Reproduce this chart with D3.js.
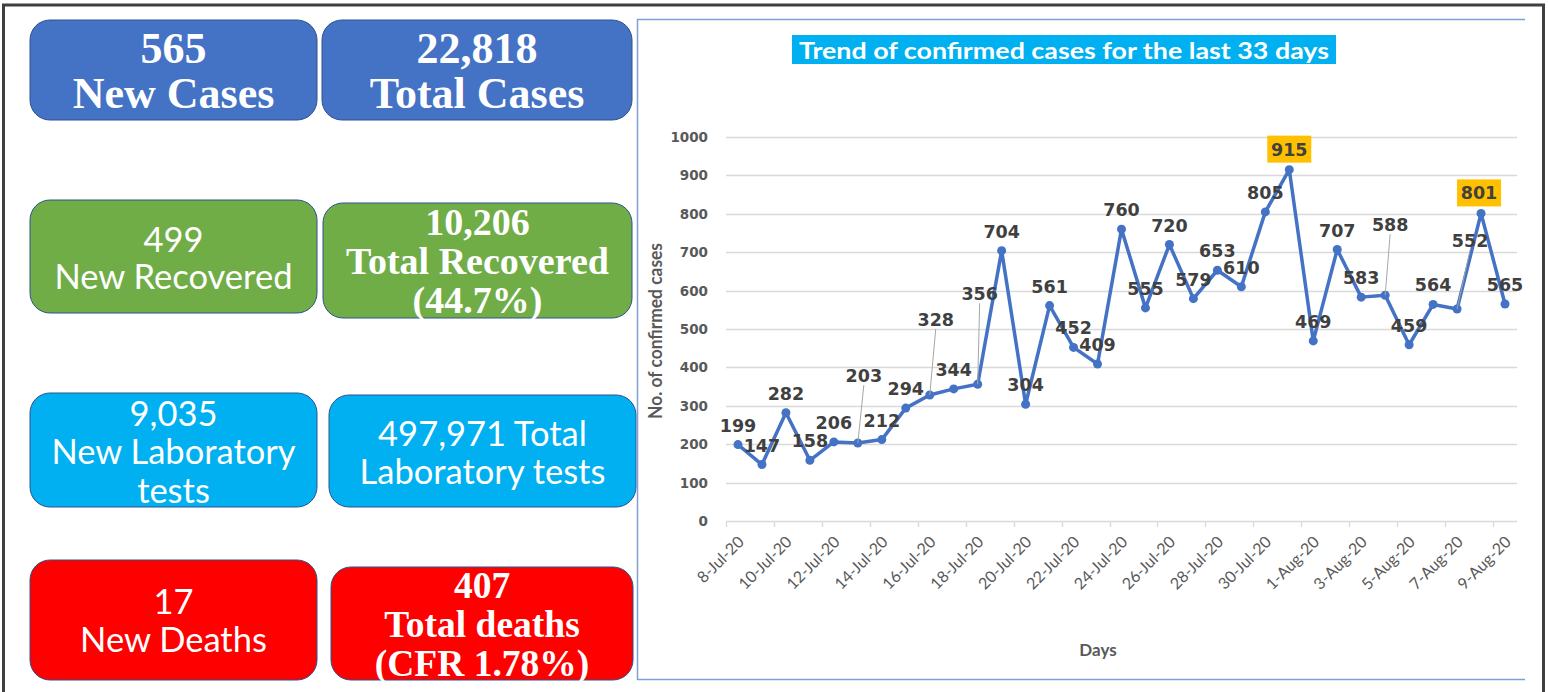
<!DOCTYPE html>
<html>
<head>
<meta charset="utf-8">
<script src="https://cdn.jsdelivr.net/npm/d3@7"></script>
<style>
  body { margin: 0; background: #fff; }
  svg { display: block; }
</style>
</head>
<body>
<svg id="board" width="1548" height="692"></svg>
<script>
// ---- data ----
const days = [
  '8-Jul-20', '9-Jul-20', '10-Jul-20', '11-Jul-20', '12-Jul-20', '13-Jul-20',
  '14-Jul-20', '15-Jul-20', '16-Jul-20', '17-Jul-20', '18-Jul-20', '19-Jul-20',
  '20-Jul-20', '21-Jul-20', '22-Jul-20', '23-Jul-20', '24-Jul-20', '25-Jul-20',
  '26-Jul-20', '27-Jul-20', '28-Jul-20', '29-Jul-20', '30-Jul-20', '31-Jul-20',
  '1-Aug-20', '2-Aug-20', '3-Aug-20', '4-Aug-20', '5-Aug-20', '6-Aug-20',
  '7-Aug-20', '8-Aug-20', '9-Aug-20'
];
const cases = [
  199, 147, 282, 158, 206, 203, 212, 294, 328, 344, 356, 704, 304, 561, 452,
  409, 760, 555, 720, 579, 653, 610, 805, 915, 469, 707, 583, 588, 459, 564,
  552, 801, 565
];
const yTicks = [0, 100, 200, 300, 400, 500, 600, 700, 800, 900, 1000];
const highlightDays = ['31-Jul-20', '8-Aug-20'];

const chartTitle = 'Trend of confirmed cases for the last 33 days';
const yTitle = 'No. of confirmed cases';
const xTitle = 'Days';

const statLines = [
  ['565', 'New Cases'],
  ['22,818', 'Total Cases'],
  ['499', 'New Recovered'],
  ['10,206', 'Total Recovered', '(44.7%)'],
  ['9,035', 'New Laboratory', 'tests'],
  ['497,971 Total', 'Laboratory tests'],
  ['17', 'New Deaths'],
  ['407', 'Total deaths', '(CFR 1.78%)']
];

// ---- layout / styles ----
const serif = '"Liberation Serif", "Times New Roman", serif';
const sans = 'Lato, "Open Sans", sans-serif';
const boxes = [
  {x: 30, y: 20, w: 287, h: 100, fill: '#4472c4', font: serif, bold: true, size: 44, top: 48, step: 45},
  {x: 322, y: 20, w: 310, h: 100, fill: '#4472c4', font: serif, bold: true, size: 44, top: 48, step: 45},
  {x: 30, y: 200, w: 287, h: 113, fill: '#70ad47', font: sans, bold: false, size: 34.5, top: 238, step: 37},
  {x: 323, y: 203, w: 309, h: 115, fill: '#70ad47', font: serif, bold: true, size: 38, top: 222, step: 39},
  {x: 30, y: 393, w: 287, h: 114, fill: '#00b0f0', font: sans, bold: false, size: 34.5, top: 412, step: 38.5},
  {x: 329, y: 395, w: 307, h: 112, fill: '#00b0f0', font: sans, bold: false, size: 34.5, top: 432, step: 38},
  {x: 30, y: 560, w: 287, h: 120, fill: '#ff0000', font: sans, bold: false, size: 34.5, top: 600, step: 38},
  {x: 331, y: 567, w: 302, h: 113, fill: '#ff0000', font: serif, bold: true, size: 37.5, top: 585, step: 39}
];

// label nudges (dx, dy) from the point; default sits just above it
const labelNudge = {5: [6, -67], 8: [6, -75], 10: [2, -90], 27: [5, -70], 30: [13, -68], 31: [-2, -20], 23: [0, -20]};

const svg = d3.select('#board');

// outer frame
svg.append('path')
    .attr('d', 'M3.5,692 V5 H1543.5 V692')
    .attr('fill', 'none')
    .attr('stroke', '#3f3f3f')
    .attr('stroke-width', 3);

// ---- stat boxes ----
const box = svg.append('g').selectAll('g')
    .data(statLines)
    .join('g');

box.append('rect')
    .attr('x', (d, i) => boxes[i].x)
    .attr('y', (d, i) => boxes[i].y)
    .attr('width', (d, i) => boxes[i].w)
    .attr('height', (d, i) => boxes[i].h)
    .attr('rx', 20)
    .attr('fill', (d, i) => boxes[i].fill)
    .attr('stroke', '#2f528f')
    .attr('stroke-width', 1);

box.each(function(lines, i) {
  const b = boxes[i];
  d3.select(this).selectAll('text')
      .data(lines)
      .join('text')
      .attr('x', b.x + b.w / 2)
      .attr('y', (d, j) => b.top + j * b.step)
      .attr('text-anchor', 'middle')
      .attr('dominant-baseline', 'central')
      .attr('fill', '#fff')
      .style('font-family', b.font)
      .style('font-weight', b.bold ? 700 : 400)
      .style('font-size', b.size + 'px')
      .text(d => d);
});

// ---- chart panel ----
svg.append('path')
    .attr('d', 'M1525,19.5 H637.5 V679.5 H1525')
    .attr('fill', 'none')
    .attr('stroke', '#7f9fd6')
    .attr('stroke-width', 1.5);

svg.append('rect')
    .attr('x', 792)
    .attr('y', 35)
    .attr('width', 544)
    .attr('height', 29)
    .attr('fill', '#00b0f0');

svg.append('text')
    .attr('x', 1064)
    .attr('y', 50)
    .attr('text-anchor', 'middle')
    .attr('dominant-baseline', 'central')
    .attr('fill', '#fff')
    .attr('textLength', 530)
    .attr('lengthAdjust', 'spacingAndGlyphs')
    .style('font-family', sans)
    .style('font-weight', 700)
    .style('font-size', '22px')
    .text(chartTitle);

const x = d3.scaleBand()
    .domain(days)
    .range([726, 1517]);

const y = d3.scaleLinear()
    .domain([0, 1000])
    .range([521, 137]);

const bw = x.bandwidth();
const cx = d => x(d) + bw / 2;

const g = svg.append('g');

// gridlines
g.append('g')
    .selectAll('line')
    .data(yTicks)
    .join('line')
    .attr('x1', 726)
    .attr('x2', 1517)
    .attr('y1', d => Math.round(y(d)) + 0.5)
    .attr('y2', d => Math.round(y(d)) + 0.5)
    .attr('stroke', '#d9d9d9')
    .attr('stroke-width', 1.3);

// y tick labels
g.append('g')
    .selectAll('text')
    .data(yTicks)
    .join('text')
    .attr('x', 708)
    .attr('y', d => y(d))
    .attr('text-anchor', 'end')
    .attr('dominant-baseline', 'central')
    .attr('fill', '#595959')
    .style('font-family', '"DejaVu Sans", sans-serif')
    .style('font-weight', 700)
    .style('font-size', '13.5px')
    .text(d => d);

// x axis
const shownDays = days.filter((d, i) => i % 2 === 0);
const xAxis = g.append('g')
    .attr('transform', 'translate(0,521)')
    .call(d3.axisBottom(x).tickValues(shownDays).tickSize(0));
xAxis.select('.domain').remove();
xAxis.selectAll('.tick text')
    .attr('x', null)
    .attr('y', null)
    .attr('dy', '0.35em')
    .attr('text-anchor', 'end')
    .attr('transform', 'translate(3,18) rotate(-45)')
    .attr('fill', '#595959')
    .style('font-family', sans)
    .style('font-size', '16px');

g.append('g')
    .selectAll('line')
    .data(shownDays)
    .join('line')
    .attr('x1', d => Math.round(x(d)) + 0.5)
    .attr('x2', d => Math.round(x(d)) + 0.5)
    .attr('y1', 521)
    .attr('y2', 527)
    .attr('stroke', '#d9d9d9')
    .attr('stroke-width', 1.3);

// axis titles
svg.append('text')
    .attr('transform', 'translate(655,331) rotate(-90)')
    .attr('text-anchor', 'middle')
    .attr('dominant-baseline', 'central')
    .attr('fill', '#595959')
    .attr('textLength', 176)
    .attr('lengthAdjust', 'spacingAndGlyphs')
    .style('font-family', sans)
    .style('font-weight', 700)
    .style('font-size', '18px')
    .text(yTitle);

svg.append('text')
    .attr('x', 1098)
    .attr('y', 649)
    .attr('text-anchor', 'middle')
    .attr('dominant-baseline', 'central')
    .attr('fill', '#595959')
    .style('font-family', sans)
    .style('font-weight', 700)
    .style('font-size', '17px')
    .text(xTitle);

// series
const series = days.map((d, i) => ({day: d, value: cases[i], i: i}));

const line = d3.line()
    .x(d => cx(d.day))
    .y(d => y(d.value));

g.append('path')
    .datum(series)
    .attr('d', line)
    .attr('fill', 'none')
    .attr('stroke', '#4472c4')
    .attr('stroke-width', 3.5)
    .attr('stroke-linejoin', 'round');

g.append('g')
    .selectAll('circle')
    .data(series)
    .join('circle')
    .attr('cx', d => cx(d.day))
    .attr('cy', d => y(d.value))
    .attr('r', 4.5)
    .attr('fill', '#4472c4');

// data labels
const nudge = d => labelNudge[d.i] || [0, -19];
const lx = d => cx(d.day) + nudge(d)[0];
const ly = d => y(d.value) + nudge(d)[1];

g.append('g')
    .selectAll('line')
    .data(series.filter(d => nudge(d)[1] < -40))
    .join('line')
    .attr('x1', d => cx(d.day))
    .attr('y1', d => y(d.value))
    .attr('x2', d => lx(d))
    .attr('y2', d => ly(d) + 9)
    .attr('stroke', '#a6a6a6')
    .attr('stroke-width', 1);

g.append('g')
    .selectAll('rect')
    .data(series.filter(d => highlightDays.includes(d.day)))
    .join('rect')
    .attr('x', d => lx(d) - 22)
    .attr('y', d => ly(d) - 14)
    .attr('width', 44)
    .attr('height', 27)
    .attr('fill', '#ffc000');

g.append('g')
    .selectAll('text')
    .data(series)
    .join('text')
    .attr('x', lx)
    .attr('y', ly)
    .attr('text-anchor', 'middle')
    .attr('dominant-baseline', 'central')
    .attr('fill', '#404040')
    .style('font-family', '"DejaVu Sans", sans-serif')
    .style('font-weight', 700)
    .style('font-size', '17.5px')
    .text(d => d.value);
</script>
</body>
</html>
